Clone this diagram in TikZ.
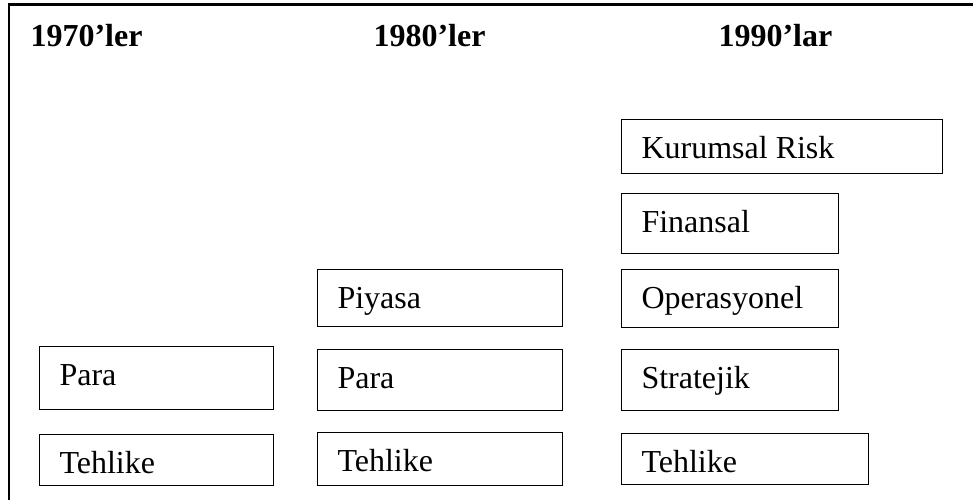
\documentclass[tikz,border=0pt]{standalone}
\usepackage{fontspec}
\setmainfont{Liberation Serif}
\usepackage{tikz}

\begin{document}
\begin{tikzpicture}[
        x=0.375pt, y=-0.375pt,
        riskbox/.style={draw, line width=0.5pt, inner sep=0pt, anchor=north west,
                        label={[boxtext]north west:#1}},
        boxtext/.style={anchor=base west, inner sep=0pt, xshift=7.5pt, yshift=-14.8pt,
                        font=\fontsize{12}{14}\selectfont},
        decade/.style={anchor=base west, inner sep=0pt,
                       font=\fontsize{12}{14}\selectfont\bfseries}
      ]
        \useasboundingbox (0,0) rectangle (973,500);
        % Frame (open to the right and bottom)
        \draw[line width=0.8pt] (9,500) -- (9,4.5) -- (973,4.5);
        % Decades
        \node[decade] (D70) at (30,46)  {1970’ler};
        \node[decade] (D80) at (373,46) {1980’ler};
        \node[decade] (D90) at (718,46) {1990’lar};
        % Risk boxes: name/x/y/width/height/text
        \foreach \name/\x/\y/\w/\h/\txt in {
            A1/39/346/234/63/Para, A2/39/434/234/51/Tehlike,
            B1/317/269/245/57/Piyasa, B2/317/349/245/61/Para, B3/317/432/245/53/Tehlike,
            C1/621/119/321/54/Kurumsal Risk, C2/621/193/217/60/Finansal,
            C3/621/269/217/58/Operasyonel, C4/621/349/217/61/Stratejik,
            C5/621/433/247/51/Tehlike}{
          \node[riskbox=\txt, minimum width=\w*0.375pt, minimum height=\h*0.375pt]
            (\name) at (\x,\y) {};
        }
      \end{tikzpicture}
\end{document}
